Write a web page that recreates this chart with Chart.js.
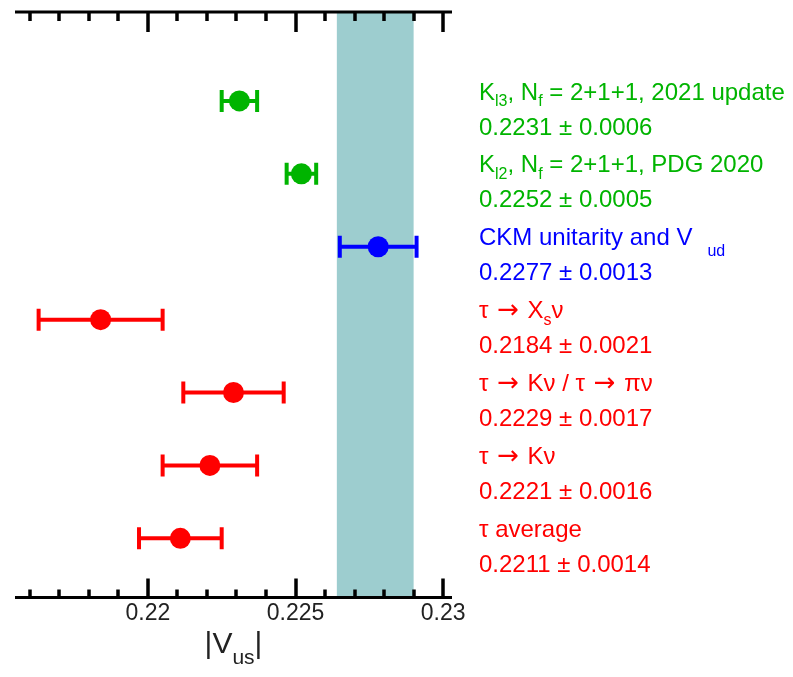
<!DOCTYPE html>
<html>
<head>
<meta charset="utf-8">
<script src="https://cdn.jsdelivr.net/npm/chart.js@4/dist/chart.umd.min.js"></script>
<style>
  html, body { margin: 0; padding: 0; background: #fff; }
  #wrap { width: 793px; height: 677px; }
</style>
</head>
<body>
<div id="wrap"><canvas id="c" width="793" height="677"></canvas></div>
<script>
/* ── |Vus| 对比图 ── */

// 每行数据（从上到下）
const rowValues = [0.2231, 0.2252, 0.2278, 0.2184, 0.2229, 0.2221, 0.2211];
const rowErrors = [0.0006, 0.0005, 0.0013, 0.0021, 0.0017, 0.0016, 0.0014];
const rowColors = ['#00b400', '#00b400', '#0000ff', '#ff0000', '#ff0000', '#ff0000', '#ff0000'];

// 右侧标注（[文本, 类型]：0 正文, 1 下标, 2 箭头, 3 远下标）
const rowNames = [
    [['K', 0], ['l3', 1], [', N', 0], ['f', 1], [' = 2+1+1, 2021 update', 0]],
    [['K', 0], ['l2', 1], [', N', 0], ['f', 1], [' = 2+1+1, PDG 2020', 0]],
    [['CKM unitarity and V', 0], ['ud', 3]],
    [['τ ', 0], ['→', 2], [' X', 0], ['s', 1], ['ν', 0]],
    [['τ ', 0], ['→', 2], [' Kν / τ ', 0], ['→', 2], [' πν', 0]],
    [['τ ', 0], ['→', 2], [' Kν', 0]],
    [['τ average', 0]],
];
const rowValueText = [
    '0.2231 ± 0.0006', '0.2252 ± 0.0005', '0.2277 ± 0.0013', '0.2184 ± 0.0021',
    '0.2229 ± 0.0017', '0.2221 ± 0.0016', '0.2211 ± 0.0014',
];

// 竖直色带（CKM 幺正性）
const bandLo = 0.2264;
const bandHi = 0.2290;

// 坐标轴刻度
const xMin = 0.2155;
const xMax = 0.2303;
const tickValues = [0.216, 0.217, 0.218, 0.219, 0.220, 0.221, 0.222, 0.223, 0.224,
    0.225, 0.226, 0.227, 0.228, 0.229, 0.230];
const majorTicks = [0.220, 0.225, 0.230];
const majorLabels = ['0.22', '0.225', '0.23'];

const FONT = '"Liberation Sans", Arial, Helvetica, sans-serif';

function isMajor(v) {
    return majorTicks.some(m => Math.abs(m - v) < 1e-7);
}

// 误差棒：每行一条线，两端用竖线点做端帽
const datasets = rowValues.map((v, i) => ({
    type: 'line',
    data: [{ x: v - rowErrors[i], y: i + 1 }, { x: v + rowErrors[i], y: i + 1 }],
    borderColor: rowColors[i],
    borderWidth: 4,
    pointStyle: 'line',
    pointRotation: 90,
    pointRadius: 11,
    pointBorderWidth: 4,
    pointBorderColor: rowColors[i],
    pointHoverRadius: 11,
    order: 2,
}));

datasets.push({
    type: 'scatter',
    data: rowValues.map((v, i) => ({ x: v, y: i + 1 })),
    pointStyle: 'circle',
    pointRadius: 10.5,
    pointHoverRadius: 10.5,
    pointBackgroundColor: rowColors,
    pointBorderColor: rowColors,
    pointBorderWidth: 0,
    order: 1,
});

const bandPlugin = {
    id: 'band',
    beforeDatasetsDraw(chart) {
        const { ctx, chartArea: a, scales: { x } } = chart;
        const x0 = x.getPixelForValue(bandLo);
        const x1 = x.getPixelForValue(bandHi);
        ctx.save();
        ctx.fillStyle = '#9dcdcf';
        ctx.fillRect(x0, a.top, x1 - x0, a.bottom - a.top);
        ctx.restore();
    },
};

const framePlugin = {
    id: 'frame',
    afterDatasetsDraw(chart) {
        const { ctx, chartArea: a, scales: { x } } = chart;
        ctx.save();
        ctx.strokeStyle = '#000';
        ctx.lineWidth = 3;
        ctx.beginPath();
        ctx.moveTo(a.left, a.top); ctx.lineTo(a.right, a.top);
        ctx.moveTo(a.left, a.bottom); ctx.lineTo(a.right, a.bottom);
        ctx.stroke();
        ctx.lineWidth = 3.5;
        ctx.beginPath();
        tickValues.forEach(v => {
            const px = Math.round(x.getPixelForValue(v));
            const len = isMajor(v) ? 20 : 9;
            ctx.moveTo(px, a.top); ctx.lineTo(px, a.top + len);
            ctx.moveTo(px, a.bottom); ctx.lineTo(px, a.bottom - len + 1);
        });
        ctx.stroke();
        ctx.restore();
    },
    afterDraw(chart) {
        const { ctx, chartArea: a, scales: { y } } = chart;
        ctx.save();
        ctx.textBaseline = 'middle';
        ctx.textAlign = 'left';

        // 右侧标注
        const tx = a.right + 27;
        rowNames.forEach((parts, i) => {
            const py = y.getPixelForValue(i + 1);
            ctx.fillStyle = rowColors[i];
            let cx = tx;
            parts.forEach(([txt, kind]) => {
                let dy = 0;
                if (kind === 1) { ctx.font = '16px ' + FONT; dy = 9; }
                else if (kind === 3) { ctx.font = '16px ' + FONT; dy = 13; cx += 15; }
                else if (kind === 2) { ctx.font = '26px "DejaVu Sans", sans-serif'; dy = 0; cx += 2; }
                else ctx.font = '24px ' + FONT;
                ctx.fillText(txt, cx, py - 8 + dy);
                cx += ctx.measureText(txt).width + (kind === 2 ? 2 : 0);
            });
            ctx.font = '24px ' + FONT;
            ctx.fillText(rowValueText[i], tx, py + 27);
        });

        // 横轴标题 |V_us|
        const mid = (a.left + a.right) / 2;
        const ty = 645;
        ctx.fillStyle = '#222';
        ctx.font = '30px ' + FONT;
        const w1 = ctx.measureText('|V').width;
        ctx.font = '21px ' + FONT;
        const w2 = ctx.measureText('us').width;
        ctx.font = '30px ' + FONT;
        const w3 = ctx.measureText('|').width;
        let sx = mid - (w1 + w2 + w3) / 2;
        ctx.fillText('|V', sx, ty);
        sx += w1;
        ctx.font = '21px ' + FONT;
        ctx.fillText('us', sx, ty + 13);
        sx += w2;
        ctx.font = '30px ' + FONT;
        ctx.fillText('|', sx, ty);
        ctx.restore();
    },
};

new Chart(document.getElementById('c'), {
    data: { datasets },
    options: {
        responsive: false,
        animation: false,
        events: [],
        layout: { autoPadding: false, padding: { left: 15, right: 341, top: 12, bottom: 48 } },
        plugins: {
            legend: { display: false },
            tooltip: { enabled: false },
        },
        scales: {
            x: {
                type: 'linear',
                position: 'bottom',
                min: xMin,
                max: xMax,
                afterBuildTicks: scale => {
                    scale.ticks = tickValues.map(v => ({ value: v }));
                },
                grid: { display: false, drawTicks: false },
                border: { display: false },
                ticks: {
                    autoSkip: false,
                    maxRotation: 0,
                    padding: 2,
                    color: '#222',
                    font: { family: FONT, size: 23 },
                    callback: v => {
                        const k = majorTicks.findIndex(m => Math.abs(m - v) < 1e-7);
                        return k >= 0 ? majorLabels[k] : '';
                    },
                },
            },
            y: {
                type: 'linear',
                display: false,
                reverse: true,
                min: -0.22,
                max: 7.81,
            },
        },
    },
    plugins: [bandPlugin, framePlugin],
});
</script>
</body>
</html>
